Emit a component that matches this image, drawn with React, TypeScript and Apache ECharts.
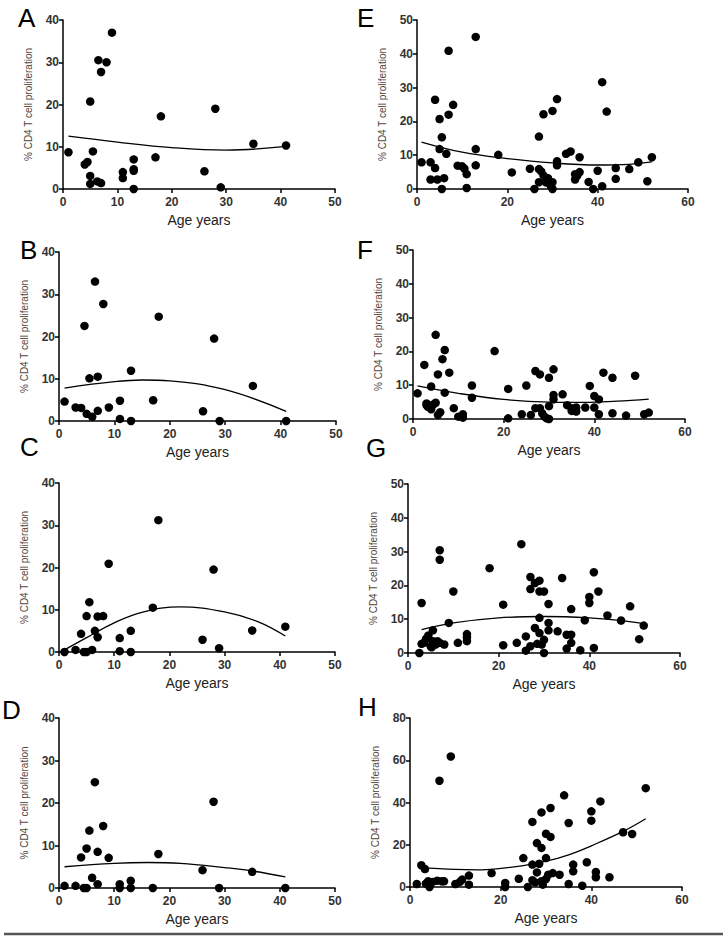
import { useEffect, useRef } from "react";
import * as echarts from "echarts";

// ---------- data (age in years, % CD4 T cell proliferation) ----------
const scatterA: [number, number][] = [
  [1, 8.7], [4, 5.8], [4.5, 6.4], [5, 20.7], [5, 3.1], [5, 1.2], [5.5, 8.9], [6.3, 1.8],
  [6.5, 30.5], [7, 27.7], [7, 1.4], [8, 30], [9, 37], [11, 4], [11, 2.6], [13, 7],
  [13, 4.7], [13, 4.3], [13, 0], [17, 7.5], [18, 17.2], [26, 4.2], [28, 19], [29, 0.4],
  [35, 10.7], [41, 10.3],
];
const trendA: [number, number][] = [[1, 12.5], [10, 11.1], [20, 9.8], [30, 9.2], [41, 10.1]];

const scatterB: [number, number][] = [
  [1, 4.6], [3, 3.2], [4, 3.1], [4.6, 22.5], [5, 1.7], [5.5, 10.1], [6, 1], [6.5, 33],
  [7, 10.5], [7, 2.4], [8, 27.7], [9, 3.2], [11, 4.8], [11, 0.5], [13, 11.9], [13, 0],
  [17, 4.9], [18, 24.7], [26, 2.3], [28, 19.5], [29, 0], [35, 8.3], [41, 0],
];
const trendB: [number, number][] = [[1, 7.8], [10, 9.3], [15, 9.7], [20, 9.5], [30, 7.4], [41, 2.3]];

const scatterC: [number, number][] = [
  [1, 0], [3, 0.5], [4, 4.3], [4.5, 0], [5, 0], [5, 8.5], [5.5, 11.8], [6, 0.5],
  [6.5, 5], [7, 8.4], [7, 3.5], [8, 8.5], [9, 20.9], [11, 3.3], [11, 0.2], [13, 5],
  [13, 0], [17, 10.5], [18, 31.2], [26, 2.9], [28, 19.5], [29, 0.9], [35, 5.1], [41, 6],
];
const trendC: [number, number][] = [[1, 0.5], [5, 3.4], [10, 6.9], [15, 9.4], [22, 10.7], [30, 9.5], [36, 7.2], [41, 3.8]];

const scatterD: [number, number][] = [
  [1, 0.5], [3, 0.5], [4, 7.2], [4.5, 0], [5, 0], [5, 9.3], [5.5, 13.5], [6, 2.4],
  [6.5, 24.9], [7, 8.5], [7, 0.9], [8, 14.6], [9, 7.1], [11, 0.9], [11, 0], [13, 1.7],
  [13, 0], [17, 0], [18, 8], [26, 4.2], [28, 20.3], [29, 0], [35, 3.8], [41, 0],
];
const trendD: [number, number][] = [[1, 5.0], [10, 5.8], [16, 6.0], [22, 5.8], [30, 4.8], [35, 4.0], [41, 2.6]];

const scatterE: [number, number][] = [
  [1, 7.9], [3, 7.9], [3, 2.8], [4, 26.4], [4, 6.2], [4.5, 2.8], [5, 20.7], [5, 11.8],
  [5.5, 15.3], [5.5, 0], [6, 3.2], [6.5, 10.4], [7, 40.9], [7, 22], [8, 24.9], [9, 6.9],
  [10, 6.7], [10.5, 6], [11, 4.4], [11, 0.3], [13, 45], [13, 11.8], [13, 7], [18, 10.1],
  [21, 4.9], [25, 6], [26, 0], [27, 15.5], [27, 5.9], [28, 22.1], [27.5, 5.2], [27, 2],
  [28, 4], [28.5, 2], [29, 3.2], [29.3, 1.5], [29.7, 0.8], [30, 2], [30, 23.1], [30, 0],
  [31, 26.6], [31, 8.2], [31, 7], [33, 10.4], [34, 11.1], [35, 4.4], [35, 2.8], [36, 9.4],
  [36, 5], [35.5, 4], [38, 2.1], [39, 0], [40, 5.4], [41, 31.6], [41, 0.8], [42, 22.9],
  [44, 6.2], [44, 3], [47, 5.9], [49, 7.9], [51, 2.3], [52, 9.4],
];
const trendE: [number, number][] = [[1, 13.9], [10, 10.9], [20, 9.0], [30, 7.7], [40, 7.1], [47, 7.3], [52, 8.0]];

const scatterF: [number, number][] = [
  [1, 7.6], [2.5, 16], [3, 4.6], [3, 4.1], [3.3, 3.6], [4, 2.9], [4, 9.6], [4.5, 4.3],
  [5, 4.8], [5, 24.9], [5.5, 13.2], [5.5, 1.2], [6, 2], [6.5, 17.7], [7, 20.4], [7, 7.8],
  [8, 13.7], [9, 3.2], [10, 0.7], [11, 1.4], [11, 0.4], [13, 9.9], [13, 6.3], [18, 20.1],
  [21, 8.9], [21, 0.2], [24, 1.4], [25, 9.9], [26, 1.2], [27, 14.2], [27, 3.2], [28, 13.2],
  [28, 3.2], [28.5, 1.7], [29, 0.7], [29.5, 0.2], [30, 12.2], [30, 0], [30, 3.8], [31, 14.7],
  [31, 7.1], [31, 5.8], [33, 7.3], [34, 4.1], [35, 3.2], [35, 2.4], [36, 3.4], [36, 2.2],
  [38, 3.4], [39, 9.8], [40, 6.8], [40, 3.4], [41, 5.8], [41, 1.4], [42, 13.7], [44, 12.2],
  [44, 1.7], [47, 1], [49, 12.8], [51, 1.4], [52, 1.9],
];
const trendF: [number, number][] = [[1, 9.8], [10, 7.6], [20, 5.8], [30, 5.0], [38, 4.9], [45, 5.3], [52, 5.9]];

const scatterG: [number, number][] = [
  [2.5, 0], [3, 14.8], [3, 2.7], [3.5, 3], [4, 4.2], [4.5, 5.2], [5, 2], [5.2, 1.7],
  [5.5, 6.7], [5.5, 3.5], [6.1, 2.5], [6.5, 3.5], [7, 30.4], [7, 27.6], [7, 3], [8, 2.5],
  [9, 8.9], [10, 18.2], [11, 3], [13, 5.6], [13, 4.6], [13, 3.5], [18, 25.1], [21, 14.3],
  [21, 2.3], [24, 3], [25, 32.2], [26, 4.9], [26, 0.7], [27, 22.5], [27, 18.9], [28, 20.7],
  [28, 7.4], [27, 2], [28.5, 2.7], [29, 21.4], [29, 18.2], [29, 10.4], [29, 5.9], [29.5, 2.5],
  [30, 18.2], [30, 3.9], [30, 0], [31, 14.5], [31, 8.9], [31, 6.7], [33, 6.4], [34, 22.2],
  [35, 5.4], [35, 1.3], [36, 5.4], [36, 13], [36, 3], [38, 0.8], [39, 9.7], [40, 16.6],
  [40, 14.8], [41, 23.9], [41, 1.5], [42, 18.2], [44, 11.1], [47, 9.6], [49, 13.8], [51, 4.1],
  [52, 8.1],
];
const trendG: [number, number][] = [[3, 6.9], [10, 8.9], [20, 10.4], [30, 10.8], [40, 10.4], [47, 9.6], [52, 8.7]];

const scatterH: [number, number][] = [
  [1.5, 1.4], [2.5, 10.3], [3.3, 8.5], [3.5, 1.6], [4, 2.7], [4.3, 0], [4.5, 1.9], [5, 2.4],
  [6, 3], [6.5, 50.3], [7, 2.7], [7.5, 2.7], [9, 61.8], [10, 1.4], [11, 2.4], [11.5, 3.5],
  [13, 5.4], [13, 1.1], [18, 6.6], [21, 1.9], [21, 0], [24, 3.9], [25, 13.7], [26, 0],
  [27, 3.2], [27, 30.8], [27, 10.6], [27.6, 2.2], [28, 20.8], [28, 6.9], [28.5, 11], [29, 18.5],
  [29, 35.3], [29, 2.7], [29.3, 1.1], [30, 3.8], [30, 25.2], [30, 13.7], [30.5, 5.8], [31, 37.4],
  [31, 23.7], [31.5, 6.6], [33, 5.8], [34, 43.4], [35, 30.3], [35, 1.4], [36, 10.6], [36, 7.4],
  [38, 0.6], [39, 11.7], [40, 35.8], [40, 31.4], [41, 7.1], [41, 4.6], [42, 40.5], [44, 4.6],
  [47, 25.9], [49, 25.1], [52, 46.8],
];
const trendH: [number, number][] = [[2, 9.3], [10, 8.3], [15, 8.1], [20, 8.8], [25, 10.1], [30, 12.2], [35, 15.2], [40, 19.5], [47, 26.3], [52, 32.3]];

const panelLetters = ["A", "B", "C", "D", "E", "F", "G", "H"];
const xMaxes = [50, 50, 50, 50, 60, 60, 60, 60];
const xIntervals = [10, 10, 10, 10, 20, 20, 20, 20];
const yMaxes = [40, 40, 40, 40, 50, 50, 50, 80];
const yIntervals = [10, 10, 10, 10, 10, 10, 10, 20];
const xTitle = "Age years";
const yTitle = "% CD4 T cell proliferation";

const scatters = [scatterA, scatterB, scatterC, scatterD, scatterE, scatterF, scatterG, scatterH];
const trends = [trendA, trendB, trendC, trendD, trendE, trendF, trendG, trendH];

// ---------- layout ----------
const grids = [
  { left: 63, top: 20, width: 272, height: 169 },
  { left: 59, top: 252, width: 277, height: 169 },
  { left: 59, top: 483, width: 276, height: 169 },
  { left: 59, top: 718, width: 276, height: 170 },
  { left: 417, top: 20, width: 271, height: 169 },
  { left: 413, top: 250, width: 272, height: 169 },
  { left: 408, top: 484, width: 272, height: 169 },
  { left: 410, top: 718, width: 272, height: 169 },
];
const letterPos = [
  [18, 18], [20, 250], [20, 447], [2, 710], [357, 18], [357, 250], [366, 448], [358, 707],
];

const FONT = "'Liberation Sans', Arial, sans-serif";

export default function App() {
  const ref = useRef<HTMLDivElement>(null);
  useEffect(() => {
    if (!ref.current) return;
    const chart = echarts.init(ref.current, undefined, { renderer: "svg" });
    const axisLine = { show: true, onZero: false, lineStyle: { color: "#000", width: 1.5 } };
    const axisTick = { show: true, length: 4, lineStyle: { color: "#000", width: 1.5 } };
    const tickLabel = { fontSize: 12, fontWeight: "bold", color: "#333", fontFamily: FONT };
    const option: any = {
      animation: false,
      backgroundColor: "#fff",
      textStyle: { fontFamily: FONT },
      grid: grids.map((g) => ({ ...g, containLabel: false })),
      xAxis: grids.map((_, i) => ({
        gridIndex: i,
        type: "value",
        min: 0,
        max: xMaxes[i],
        interval: xIntervals[i],
        name: xTitle,
        nameLocation: "middle",
        nameGap: 24,
        nameTextStyle: { fontSize: 14, color: "#222", fontFamily: FONT },
        axisLine,
        axisTick,
        axisLabel: { ...tickLabel, margin: 7 },
        splitLine: { show: false },
      })),
      yAxis: grids.map((_, i) => ({
        gridIndex: i,
        type: "value",
        min: 0,
        max: yMaxes[i],
        interval: yIntervals[i],
        name: yTitle,
        nameLocation: "middle",
        nameGap: 30,
        nameTextStyle: { fontSize: 10, color: "#54453a", fontFamily: FONT },
        axisLine,
        axisTick,
        axisLabel: { ...tickLabel, margin: 4 },
        splitLine: { show: false },
      })),
      series: [
        ...scatters.map((d, i) => ({
          type: "scatter",
          xAxisIndex: i,
          yAxisIndex: i,
          data: d,
          symbol: "circle",
          symbolSize: 8.5,
          itemStyle: { color: "#000", opacity: 1 },
          silent: true,
        })),
        ...trends.map((d, i) => ({
          type: "line",
          xAxisIndex: i,
          yAxisIndex: i,
          data: d,
          smooth: 0.4,
          showSymbol: false,
          symbol: "none",
          lineStyle: { color: "#000", width: 1.3 },
          silent: true,
        })),
      ],
      graphic: [
        ...panelLetters.map((t, i) => ({
          type: "text",
          x: letterPos[i][0],
          y: letterPos[i][1],
          style: {
            text: t,
            fontSize: 26,
            fontFamily: FONT,
            fill: "#000",
            textAlign: "left",
            textVerticalAlign: "middle",
          },
        })),
        {
          type: "line",
          shape: { x1: 4, y1: 934, x2: 723, y2: 934 },
          style: { stroke: "#555", lineWidth: 2.5 },
        },
      ],
    };
    chart.setOption(option);
    return () => chart.dispose();
  }, []);
  return (
    <div
      ref={ref}
      style={{ position: "absolute", left: 0, top: 0, width: 723, height: 943 }}
    />
  );
}
